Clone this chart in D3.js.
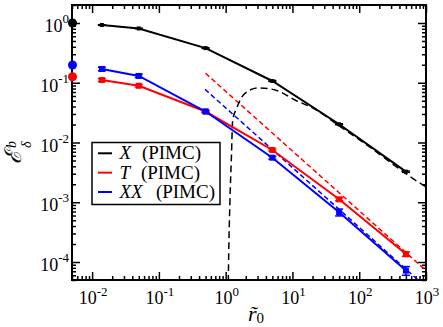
<!DOCTYPE html>
<html><head><meta charset="utf-8">
<script src="https://cdn.jsdelivr.net/npm/d3@7"></script>
<style>
body{margin:0;background:#fff}
svg{display:block}
text{font-family:"Liberation Serif","Times New Roman","DejaVu Serif",serif;fill:#000}
</style>
</head><body><script>
// ---- data ----
const rTilde   = [0.014, 0.05, 0.5, 5, 50, 500];
const X_pimc   = [0.925, 0.81, 0.38, 0.107, 0.0202, 0.00325];
const X_err    = [0.01, 0.01, 0.006, 0.002, 0.0004, 0.00008];
const T_pimc   = [0.111, 0.089, 0.033, 0.0075, 0.00112, 0.000136];
const T_err    = [0.006, 0.004, 0.0012, 0.0003, 0.00006, 0.000012];
const XX_pimc  = [0.17, 0.13, 0.033, 0.00557, 0.00068, 0.000072];
const XX_err   = [0.012, 0.008, 0.0012, 0.0003, 0.00009, 0.000012];
// limit values at r0 -> 0 (circles on the left axis)
const limitX   = [0.005, 0.005, 0.005];
const limitY   = [1.0, 0.126, 0.198];
const limitCol = ["#000000", "#ff0000", "#0000ff"];
// asymptotic (dashed) curves
const tDashX   = [0.5, 1000];
const tDashY   = [0.144, 7.2e-5];
const xxDashX  = [0.49, 760];
const xxDashY  = [0.0777, 5e-5];
const xDashX   = [1.09, 1.096, 1.16, 1.215, 1.275, 1.46, 1.70, 2.18, 3.05, 4.3, 6.51, 10.9, 20, 50, 100, 200, 500, 1000];
const xDashY   = [3e-5, 5e-5, 1.09e-3, 5.1e-3, 0.0238, 0.0373, 0.055, 0.0728, 0.0817, 0.080, 0.0708, 0.0514, 0.038, 0.019, 0.0112, 0.0064, 0.0030, 0.0018];
const xMajor   = [1e-2, 1e-1, 1, 10, 100, 1000];
const yMajor   = [1e-4, 1e-3, 1e-2, 1e-1, 1];
const xExp     = ["-2", "-1", "0", "1", "2", "3"];
const yExp     = ["-4", "-3", "-2", "-1", "0"];
const legendSym = ["X", "T", "XX"];
const legendTxt = ["(PIMC)", "(PIMC)", "(PIMC)"];
const colors   = ["#000000", "#ff0000", "#0000ff"];

// ---- setup ----
const FONT = "Liberation Serif";
const W = 443, H = 327;
const L = 72, R = 426, Tp = 5, B = 280;
const svg = d3.select("body").append("svg").attr("width", W).attr("height", H)
  .attr("font-family", FONT);
const x = d3.scaleLog().domain([0.005, 1000]).range([L, R]);
const y = d3.scaleLog().domain([5e-5, 2]).range([B, Tp]);

function minors(dom) {
  const out = [];
  for (let e = -6; e <= 4; e++) for (let m = 2; m <= 9; m++) {
    const v = m * Math.pow(10, e);
    if (v >= dom[0] && v <= dom[1]) out.push(v);
  }
  return out;
}
const xMinor = minors(x.domain());
const yMinor = minors(y.domain());

svg.append("defs").append("clipPath").attr("id", "clip")
  .append("rect").attr("x", L).attr("y", Tp).attr("width", R - L).attr("height", B - Tp);

// ---- axes ticks (inward, all four sides) ----
function axisG(gen, tx, ty, vals, size) {
  const g = svg.append("g").attr("transform", `translate(${tx},${ty})`)
    .call(gen.tickValues(vals).tickSize(-size).tickFormat(""));
  g.select(".domain").remove();
  g.selectAll("line").attr("stroke", "#000").attr("stroke-width", 1.5);
}
axisG(d3.axisBottom(x), 0, B, xMajor, 8);
axisG(d3.axisBottom(x), 0, B, xMinor, 4);
axisG(d3.axisTop(x), 0, Tp, xMajor, 8);
axisG(d3.axisTop(x), 0, Tp, xMinor, 4);
axisG(d3.axisLeft(y), L, 0, yMajor, 8);
axisG(d3.axisLeft(y), L, 0, yMinor, 4);
axisG(d3.axisRight(y), R, 0, yMajor, 8);
axisG(d3.axisRight(y), R, 0, yMinor, 4);

// ---- tick labels ----
xMajor.forEach((v, i) => {
  const t = svg.append("text").attr("font-family", FONT).attr("x", x(v) + 1).attr("y", 304).attr("text-anchor", "middle");
  t.append("tspan").attr("font-size", 18).text("10");
  t.append("tspan").attr("font-size", 13).attr("dy", -8).text(xExp[i]);
});
yMajor.forEach((v, i) => {
  const t = svg.append("text").attr("font-family", FONT).attr("x", 69).attr("y", y(v) + 9).attr("text-anchor", "end");
  t.append("tspan").attr("font-size", 18).text("10");
  t.append("tspan").attr("font-size", 13).attr("dy", -9).text(yExp[i]);
});

// ---- axis titles ----
const xt = svg.append("text").attr("font-family", FONT).attr("x", 248).attr("y", 321);
xt.append("tspan").attr("font-size", 22).attr("font-style", "italic").text("r\u0303");
xt.append("tspan").attr("font-size", 15).attr("dy", 2).text("0");

const yt = svg.append("g").attr("transform", "translate(21,164) rotate(-90)");
yt.append("text").attr("font-family", FONT).attr("x", 0).attr("y", 0).attr("font-size", 23).attr("font-style", "italic").text("ℰ");
yt.append("text").attr("font-family", FONT).attr("x", 16).attr("y", -5).attr("font-size", 14).attr("font-style", "italic").text("b");
yt.append("text").attr("font-family", FONT).attr("x", 16).attr("y", 10).attr("font-size", 14).attr("font-style", "italic").text("δ");

// ---- plot content ----
const plot = svg.append("g").attr("clip-path", "url(#clip)");
const line = d3.line().x(d => x(d[0])).y(d => y(d[1]));
const curve = d3.line().x(d => x(d[0])).y(d => y(d[1])).curve(d3.curveMonotoneX);

plot.append("path").datum(d3.zip(tDashX, tDashY)).attr("d", line)
  .attr("fill", "none").attr("stroke", colors[1]).attr("stroke-width", 1.5).attr("stroke-dasharray", "5,3");
plot.append("path").datum(d3.zip(xxDashX, xxDashY)).attr("d", line)
  .attr("fill", "none").attr("stroke", colors[2]).attr("stroke-width", 1.5).attr("stroke-dasharray", "5,3");
plot.append("path").datum(d3.zip(xDashX, xDashY)).attr("d", curve)
  .attr("fill", "none").attr("stroke", colors[0]).attr("stroke-width", 1.5).attr("stroke-dasharray", "7,4");

const series = [[X_pimc, X_err], [T_pimc, T_err], [XX_pimc, XX_err]];
series.forEach(([vals, errs], k) => {
  const pts = d3.zip(rTilde, vals, errs);
  plot.append("path").datum(pts).attr("d", line)
    .attr("fill", "none").attr("stroke", colors[k]).attr("stroke-width", 2);
  const g = plot.append("g").attr("stroke", colors[k]).attr("stroke-width", 1.5);
  pts.forEach(([r, v, e]) => {
    g.append("line").attr("x1", x(r)).attr("x2", x(r)).attr("y1", y(v - e)).attr("y2", y(v + e));
    g.append("line").attr("x1", x(r) - 4).attr("x2", x(r) + 4).attr("y1", y(v - e)).attr("y2", y(v - e));
    g.append("line").attr("x1", x(r) - 4).attr("x2", x(r) + 4).attr("y1", y(v + e)).attr("y2", y(v + e));
  });
  const s = k === 0 ? 4 : 6;
  plot.append("g").selectAll("rect").data(pts).join("rect")
    .attr("x", d => x(d[0]) - s / 2).attr("y", d => y(d[1]) - s / 2)
    .attr("width", s).attr("height", s).attr("fill", colors[k]);
});

// ---- frame ----
svg.append("rect").attr("x", L).attr("y", Tp).attr("width", R - L).attr("height", B - Tp)
  .attr("fill", "none").attr("stroke", "#000").attr("stroke-width", 2);

// limit circles
svg.append("g").selectAll("circle").data(d3.zip(limitX, limitY, limitCol)).join("circle")
  .attr("cx", d => x(d[0]) + 0.5).attr("cy", d => y(d[1])).attr("r", 4.5).attr("fill", d => d[2]);

// ---- legend ----
const lg = svg.append("g");
lg.append("rect").attr("x", 92).attr("y", 142.5).attr("width", 128).attr("height", 62)
  .attr("fill", "#fff").attr("stroke", "#000").attr("stroke-width", 1.5);
const legEnd = [201, 200, 215];
legendSym.forEach((s, i) => {
  const cy = 153.3 + i * 19.35;
  lg.append("line").attr("x1", 98).attr("x2", 112).attr("y1", cy).attr("y2", cy)
    .attr("stroke", colors[i]).attr("stroke-width", 2);
  lg.append("text").attr("font-family", FONT).attr("x", 119.5).attr("y", cy + 6).attr("font-size", 19)
    .attr("font-style", "italic").text(s);
  lg.append("text").attr("font-family", FONT).attr("x", legEnd[i]).attr("y", cy + 6).attr("font-size", 19)
    .attr("text-anchor", "end").text(legendTxt[i]);
});
</script></body></html>
